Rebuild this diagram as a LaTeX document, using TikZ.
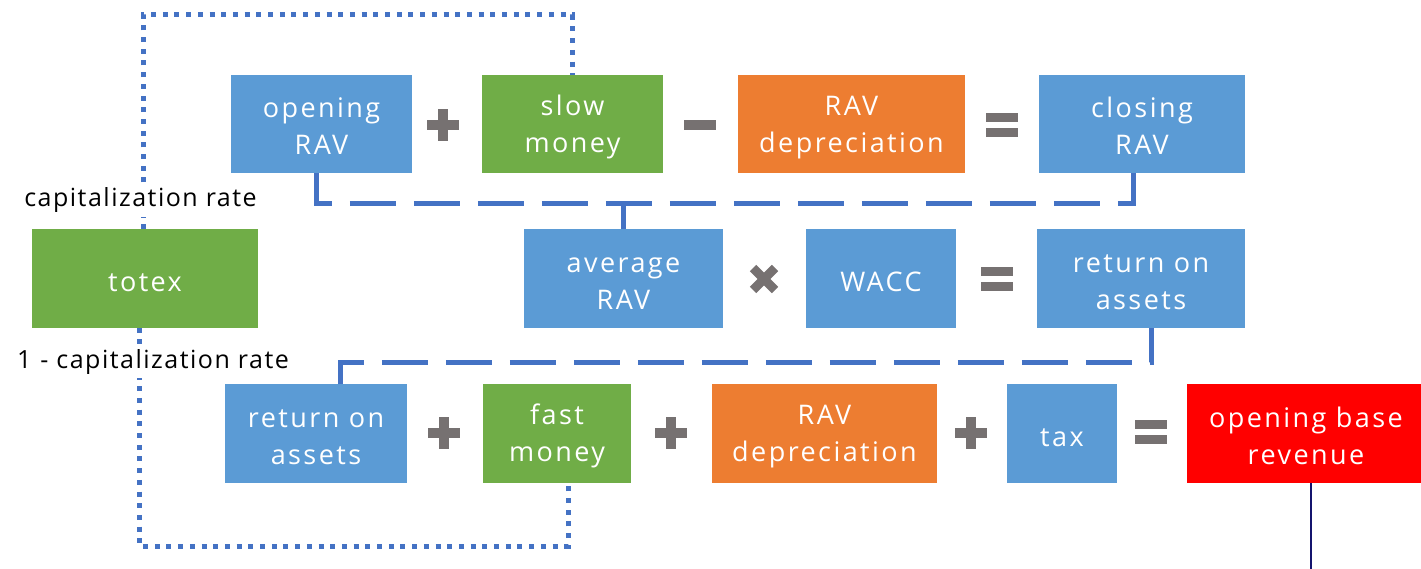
\documentclass[tikz,border=0pt]{standalone}
\usepackage{fontspec}
\setmainfont{Open Sans}
\newfontfamily\boxfont{Open Sans}[LetterSpace=9]
\newfontfamily\lblfont{Open Sans}[LetterSpace=6]
\newcommand\bs{\rule[-1pt]{0pt}{27pt}}
\definecolor{bxblue}{HTML}{5B9BD5}
\definecolor{bxgreen}{HTML}{70AD47}
\definecolor{bxorange}{HTML}{ED7D31}
\definecolor{bxred}{HTML}{FF0000}
\definecolor{opgray}{HTML}{767171}
\definecolor{lnblue}{HTML}{4472C4}
\definecolor{lnnavy}{HTML}{14146E}
\tikzset{
  box/.style={inner sep=0pt, outer sep=0pt, text=white, align=center,
    font=\boxfont\fontsize{27}{37}\selectfont, minimum height=98.5pt},
  bluebox/.style={box, fill=bxblue},
  greenbox/.style={box, fill=bxgreen},
  orangebox/.style={box, fill=bxorange},
  redbox/.style={box, fill=bxred},
  opbase/.style={minimum width=34pt, minimum height=34pt, inner sep=0pt, outer sep=0pt},
  opplus/.style={opbase, path picture={
    \fill[opgray] ([shift={(-16pt,-5pt)}]path picture bounding box.center) rectangle ++(32pt,10pt);
    \fill[opgray] ([shift={(-5pt,-16pt)}]path picture bounding box.center) rectangle ++(10pt,32pt);}},
  opminus/.style={opbase, path picture={
    \fill[opgray] ([shift={(-16pt,-5pt)}]path picture bounding box.center) rectangle ++(32pt,10pt);}},
  opeq/.style={opbase, path picture={
    \fill[opgray] ([shift={(-16pt,3pt)}]path picture bounding box.center) rectangle ++(32pt,9pt);
    \fill[opgray] ([shift={(-16pt,-12pt)}]path picture bounding box.center) rectangle ++(32pt,9pt);}},
  optimes/.style={opbase, path picture={
    \draw[opgray, line width=9pt] ([shift={(-11pt,-11pt)}]path picture bounding box.center) -- ([shift={(11pt,11pt)}]path picture bounding box.center);
    \draw[opgray, line width=9pt] ([shift={(-11pt,11pt)}]path picture bounding box.center) -- ([shift={(11pt,-11pt)}]path picture bounding box.center);}},
  dashline/.style={draw=lnblue, line width=5pt, dash pattern=on 46pt off 18pt},
  dotline/.style={draw=lnblue, line width=5pt, dash pattern=on 5pt off 6.7pt},
  navyline/.style={draw=lnnavy, line width=2pt},
  lbl/.style={fill=white, inner sep=4pt, text=black, anchor=base, font=\lblfont\fontsize{25}{30}\selectfont},
}
\begin{document}
\begin{tikzpicture}[x=1pt, y=-1pt]
\useasboundingbox (0,0) rectangle (1421,569);
% row 1
\node[bluebox, minimum width=181pt] (open) at (321.5,124) {\bs opening\\\bs RAV};
\node[opplus] (p1) at (443,125) {};
\node[greenbox, minimum width=181pt] (slow) at (572.5,124) {\bs slow\\\bs money};
\node[opminus] (m1) at (700,125) {};
\node[orangebox, minimum width=227pt] (dep1) at (851.5,124) {\bs RAV\\\bs depreciation};
\node[opeq] (e1) at (1002,125) {};
\node[bluebox, minimum width=206pt] (close) at (1142,124) {\bs closing\\\bs RAV};
% row 2
\node[greenbox, minimum width=226pt] (totex) at (145,278.5) {\bs totex};
\node[bluebox, minimum width=199pt] (avg) at (623.5,278.5) {\bs average\\\bs RAV};
\node[optimes] (t1) at (764,279) {};
\node[bluebox, minimum width=150pt] (wacc) at (881,278.5) {\bs WACC};
\node[opeq] (e2) at (997,279) {};
\node[bluebox, minimum width=208pt] (roa1) at (1141,278.5) {\bs return on\\\bs assets};
% row 3
\node[bluebox, minimum width=182pt] (roa2) at (316,433.5) {\bs return on\\\bs assets};
\node[opplus] (p2) at (444,433) {};
\node[greenbox, minimum width=148pt] (fast) at (557,433.5) {\bs fast\\\bs money};
\node[opplus] (p3) at (671,433) {};
\node[orangebox, minimum width=225pt] (dep2) at (824.5,433.5) {\bs RAV\\\bs depreciation};
\node[opplus] (p4) at (971,433) {};
\node[bluebox, minimum width=110pt] (tax) at (1062,433.5) {\bs tax};
\node[opeq] (e3) at (1151,432) {};
\node[redbox, minimum width=238pt] (obr) at (1306,433.5) {\bs opening base\\\bs revenue};
% helper coordinates
\coordinate (ya) at (0,204);
\coordinate (yb) at (0,362);
\coordinate (yt) at (0,15);
\coordinate (ybot) at (0,546);
\coordinate (endnavy) at (1311,569);
% dashed connectors
\draw[dashline] ([xshift=-5pt]open.south) |- ([xshift=-9pt]close.south |- ya) -- ([xshift=-9pt]close.south);
\draw[dashline] (avg.north) -- (avg.north |- ya);
\draw[dashline] ([xshift=24pt]roa2.north) |- ([xshift=10pt]roa1.south |- yb) -- ([xshift=10pt]roa1.south);
% dotted connectors
\draw[dotline] ([xshift=-2pt]totex.north) |- (slow.north |- yt) -- (slow.north);
\draw[dotline] ([xshift=-6pt]totex.south) |- ([xshift=11pt]fast.south |- ybot) -- ([xshift=11pt]fast.south);
% labels
\node[lbl] (cap) at (140.5,207) {capitalization rate};
\node[lbl] (cap1) at (153,368) {1\hspace{9pt}- capitalization rate};
% navy line
\draw[navyline] ([xshift=5pt]obr.south) -- (endnavy);
\end{tikzpicture}
\end{document}
